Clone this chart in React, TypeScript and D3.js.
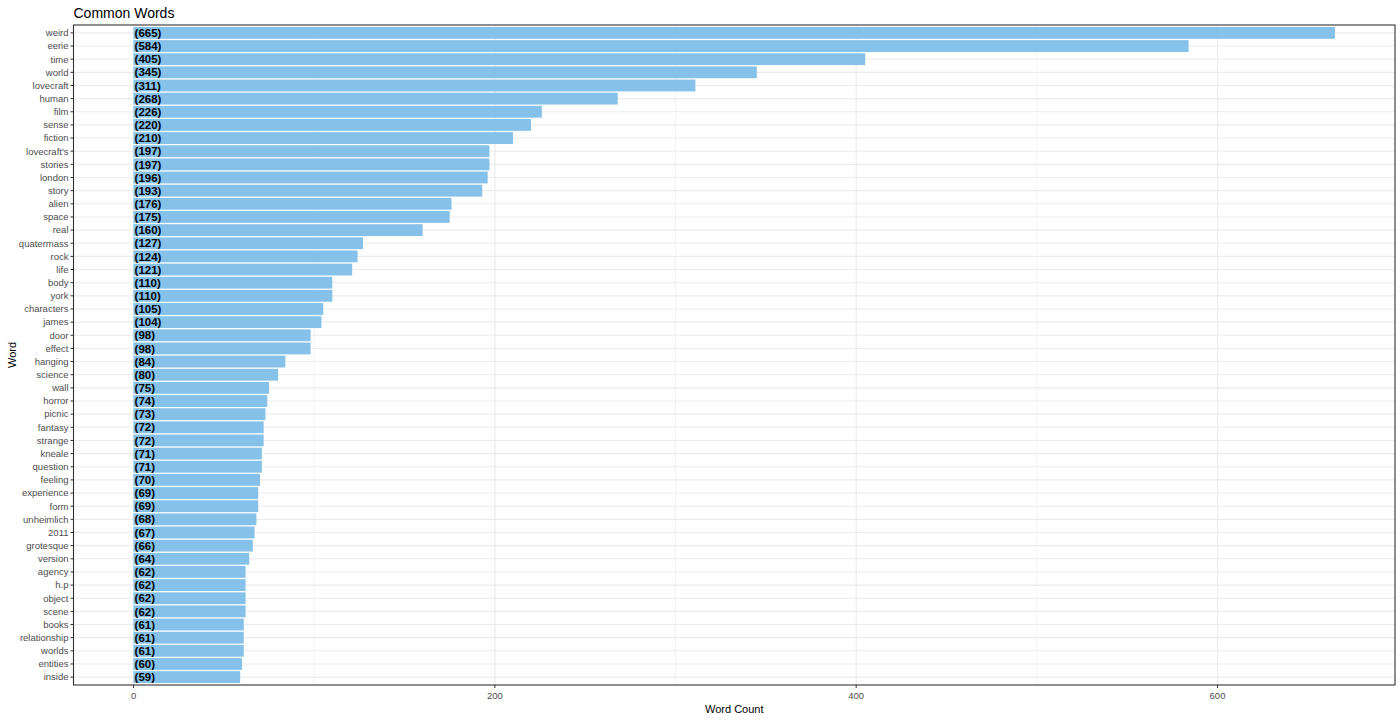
import { useEffect, useRef } from 'react'
import * as d3 from 'd3'

const words = [
  'weird', 'eerie', 'time', 'world', 'lovecraft', 'human', 'film', 'sense', 'fiction', "lovecraft's",
  'stories', 'london', 'story', 'alien', 'space', 'real', 'quatermass', 'rock', 'life', 'body',
  'york', 'characters', 'james', 'door', 'effect', 'hanging', 'science', 'wall', 'horror', 'picnic',
  'fantasy', 'strange', 'kneale', 'question', 'feeling', 'experience', 'form', 'unheimlich', '2011', 'grotesque',
  'version', 'agency', 'h.p', 'object', 'scene', 'books', 'relationship', 'worlds', 'entities', 'inside'
]

const counts = [
  665, 584, 405, 345, 311, 268, 226, 220, 210, 197,
  197, 196, 193, 176, 175, 160, 127, 124, 121, 110,
  110, 105, 104, 98, 98, 84, 80, 75, 74, 73,
  72, 72, 71, 71, 70, 69, 69, 68, 67, 66,
  64, 62, 62, 62, 62, 61, 61, 61, 60, 59
]

const xTicks = [0, 200, 400, 600]
const xMinor = [100, 300, 500]

const W = 1400
const H = 720
const FONT = 'Liberation Sans, Arial, sans-serif'

export default function App() {
  const svgRef = useRef<SVGSVGElement>(null)

  useEffect(() => {
    if (!svgRef.current) return
    const svg = d3.select(svgRef.current)
    svg.selectAll('*').remove()

    const margin = { top: 25, right: 5, bottom: 35, left: 73.5 }
    const left = margin.left
    const right = W - margin.right
    const top = margin.top
    const bottom = H - margin.bottom

    const maxV = d3.max(counts) || 0
    const pad = maxV * 0.05
    const x = d3.scaleLinear().domain([-pad, maxV + pad]).range([left, right])

    // discrete axis: category i at position i+1, expanded by 0.6 each side
    const n = words.length
    const y = d3.scaleLinear().domain([0.4, n + 0.6]).range([top, bottom])
    const yPos = (i: number) => y(i + 1)
    const bandH = (y(1.9) - y(1))

    // gridlines
    xMinor.forEach(t => {
      svg.append('line')
        .attr('x1', x(t)).attr('x2', x(t))
        .attr('y1', top).attr('y2', bottom)
        .style('stroke', '#EBEBEB').style('stroke-width', '0.6px')
    })
    xTicks.forEach(t => {
      svg.append('line')
        .attr('x1', x(t)).attr('x2', x(t))
        .attr('y1', top).attr('y2', bottom)
        .style('stroke', '#EBEBEB').style('stroke-width', '1.1px')
    })
    words.forEach((w, i) => {
      svg.append('line')
        .attr('x1', left).attr('x2', right)
        .attr('y1', yPos(i)).attr('y2', yPos(i))
        .style('stroke', '#EBEBEB').style('stroke-width', '1.1px')
    })

    // bars
    svg.selectAll('.bar')
      .data(counts)
      .join('rect')
      .attr('x', x(0))
      .attr('y', (d, i) => yPos(i) - bandH / 2)
      .attr('width', d => x(d) - x(0))
      .attr('height', bandH)
      .style('fill', '#85C1E9')

    // bar labels
    svg.selectAll('.lbl')
      .data(counts)
      .join('text')
      .attr('x', x(0) + 1)
      .attr('y', (d, i) => yPos(i))
      .attr('dy', '0.36em')
      .style('font-family', FONT)
      .style('font-size', '11.5px')
      .style('font-weight', 'bold')
      .style('fill', '#000')
      .text(d => `(${d})`)

    // panel border
    svg.append('rect')
      .attr('x', left).attr('y', top)
      .attr('width', right - left).attr('height', bottom - top)
      .style('fill', 'none').style('stroke', '#333333').style('stroke-width', '1.1px')

    // y ticks and labels
    words.forEach((w, i) => {
      svg.append('line')
        .attr('x1', left - 3).attr('x2', left)
        .attr('y1', yPos(i)).attr('y2', yPos(i))
        .style('stroke', '#333333').style('stroke-width', '1px')
      svg.append('text')
        .attr('x', left - 5)
        .attr('y', yPos(i))
        .attr('dy', '0.35em')
        .attr('text-anchor', 'end')
        .style('font-family', FONT)
        .style('font-size', '9.5px')
        .style('fill', '#4D4D4D')
        .text(w)
    })

    // x ticks and labels
    xTicks.forEach(t => {
      svg.append('line')
        .attr('x1', x(t)).attr('x2', x(t))
        .attr('y1', bottom).attr('y2', bottom + 3)
        .style('stroke', '#333333').style('stroke-width', '1px')
      svg.append('text')
        .attr('x', x(t))
        .attr('y', bottom + 14)
        .attr('text-anchor', 'middle')
        .style('font-family', FONT)
        .style('font-size', '9.5px')
        .style('fill', '#4D4D4D')
        .text(t)
    })

    // axis titles
    svg.append('text')
      .attr('x', (left + right) / 2)
      .attr('y', H - 7)
      .attr('text-anchor', 'middle')
      .style('font-family', FONT)
      .style('font-size', '11px')
      .style('fill', '#000')
      .text('Word Count')

    svg.append('text')
      .attr('transform', `translate(16,${(top + bottom) / 2}) rotate(-90)`)
      .attr('text-anchor', 'middle')
      .style('font-family', FONT)
      .style('font-size', '11px')
      .style('fill', '#000')
      .text('Word')

    // title
    svg.append('text')
      .attr('x', left)
      .attr('y', 18)
      .style('font-family', FONT)
      .style('font-size', '14px')
      .style('fill', '#000')
      .text('Common Words')
  }, [])

  return (
    <div style={{ position: 'absolute', left: 0, top: 0, background: '#fff' }}>
      <svg ref={svgRef} width={W} height={H} style={{ display: 'block' }} />
    </div>
  )
}
